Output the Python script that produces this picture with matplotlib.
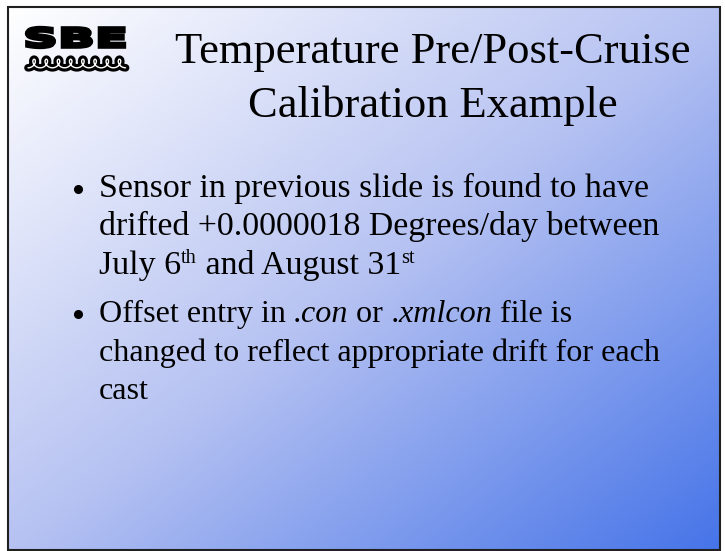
import numpy as np
import matplotlib
matplotlib.use("Agg")
import matplotlib.pyplot as plt
from matplotlib.colors import LinearSegmentedColormap
from matplotlib.patches import Rectangle, PathPatch
from matplotlib.textpath import TextPath
from matplotlib.font_manager import FontProperties
from matplotlib.transforms import Affine2D

# slide content
title_lines = ["Temperature Pre/Post-Cruise", "Calibration Example"]
bullet_1 = [
    [("Sensor in previous slide is found to have", {})],
    [("drifted +0.0000018 Degrees/day between", {})],
    [("July 6", {}), ("th", {"sup": True}), (" and August 31", {}), ("st", {"sup": True})],
]
bullet_2 = [
    [("Offset entry in ", {}), (".con", {"style": "italic"}), (" or ", {}),
     (".xmlcon", {"style": "italic"}), (" file is", {})],
    [("changed to reflect appropriate drift for each", {})],
    [("cast", {})],
]
logo_text = "SBE"

W, H = 725, 551
SERIF = "Liberation Serif"

fig = plt.figure(figsize=(W / 100, H / 100), dpi=100)
ax = fig.add_axes([0, 0, 1, 1])
ax.set_xlim(0, W)
ax.set_ylim(H, 0)
ax.axis("off")

# Background gradient, white top-left -> blue bottom-right
x0, y0, x1, y1 = 8, 7, 720, 550
gx = np.linspace(0, 1, 400)
gy = np.linspace(0, 1, 300)
GX, GY = np.meshgrid(gx, gy)
t = (GX + GY) / 2
cmap = LinearSegmentedColormap.from_list(
    "slide", [(0.0, "#ffffff"), (0.5, "#b6c2f2"), (1.0, "#4674e8")])
ax.imshow(t, cmap=cmap, extent=(x0, x1, y1, y0), aspect="auto",
          interpolation="bilinear", zorder=0)
ax.add_patch(Rectangle((x0, y0), x1 - x0, y1 - y0, fill=False,
                       edgecolor="#202020", linewidth=1.5, zorder=5))

# Logo: heavy "SBE" stretched into its box, waves underneath
tp = TextPath((0, 0), logo_text, size=10,
              prop=FontProperties(family="DejaVu Sans", weight="black"))
ext = tp.get_extents()
lx0, lx1, ly0, ly1 = 26.5, 124.5, 27.5, 47.5
tr = (Affine2D().translate(-ext.x0, -ext.y0)
      .scale((lx1 - lx0) / ext.width, -(ly1 - ly0) / ext.height)
      .translate(lx0, ly1))
ax.add_patch(PathPatch(tr.transform_path(tp), facecolor="black",
                       edgecolor="black", linewidth=2.4, joinstyle="miter",
                       zorder=3))
s = np.linspace(0, 8 * 2 * np.pi, 1200)
wx = 28 + s / (2 * np.pi) * 12.2 + 3.8 * np.sin(s)
wy = 63.5 + 4.3 * np.cos(s)
ax.plot(wx, wy, color="black", linewidth=5.5, solid_capstyle="round", zorder=3)
ax.plot(wx, wy, color="white", linewidth=1.0, solid_capstyle="round", zorder=4)

# Title
ax.text(433, 52, title_lines[0], fontsize=32, family=SERIF, ha="center",
        va="center")
ax.text(433, 106, title_lines[1], fontsize=32, family=SERIF, ha="center",
        va="center")

fig.canvas.draw()
renderer = fig.canvas.get_renderer()
inv = ax.transData.inverted()


def draw_runs(x, y, runs, size):
    # y is baseline in data (pixel) coords
    for txt, opt in runs:
        fs = size * 0.6 if opt.get("sup") else size
        dy = -size * 0.45 if opt.get("sup") else 0
        t_ = ax.text(x, y + dy, txt, fontsize=fs, family=SERIF,
                     style=opt.get("style", "normal"), ha="left",
                     va="baseline")
        bb = t_.get_window_extent(renderer)
        (xa, _), (xb, _) = inv.transform([[bb.x0, bb.y0], [bb.x1, bb.y0]])
        x = x + (xb - xa)


text_x = 99
for base, lines, size in [(197, bullet_1, 24.4), (322, bullet_2, 23.1)]:
    ax.plot(78.5, base - 8, "o", color="black", markersize=5.5)
    for i, runs in enumerate(lines):
        draw_runs(text_x, base + i * 38.5, runs, size)

fig.savefig("out.png", dpi=100, facecolor="white")
